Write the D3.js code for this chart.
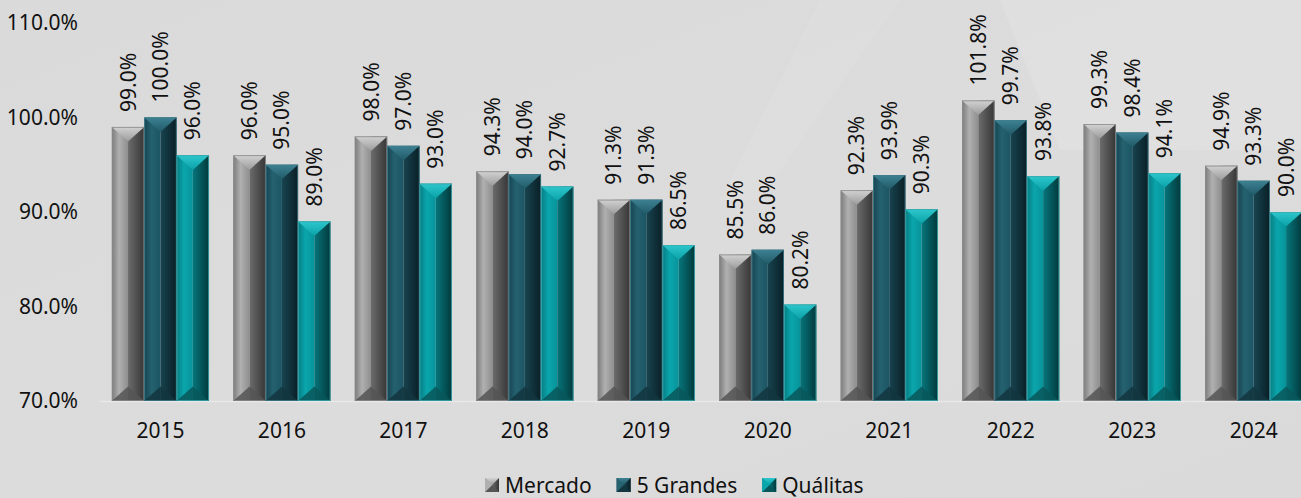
<!DOCTYPE html>
<html>
<head>
<meta charset="utf-8">
<script src="https://cdn.jsdelivr.net/npm/d3@7"></script>
<style>
  html, body { margin: 0; padding: 0; background: #dcdcdc; }
  svg { display: block; font-family: "Noto Sans", "DejaVu Sans", sans-serif; }
</style>
</head>
<body>
<div id="chart"></div>
<script>
// Chart values
const years = ['2015', '2016', '2017', '2018', '2019', '2020', '2021', '2022', '2023', '2024'];
const seriesNames = ['Mercado', '5 Grandes', 'Quálitas'];
const mercado = [99.0, 96.0, 98.0, 94.3, 91.3, 85.5, 92.3, 101.8, 99.3, 94.9];
const cincoGrandes = [100.0, 95.0, 97.0, 94.0, 91.3, 86.0, 93.9, 99.7, 98.4, 93.3];
const qualitas = [96.0, 89.0, 93.0, 92.7, 86.5, 80.2, 90.3, 93.8, 94.1, 90.0];
const yTicks = [70, 80, 90, 100, 110];

const w = 1301;
const h = 498;
const fontSize = 21;

// bevel colours per series: edge, highlight, centre, dark right, top face, bottom face, outline
const palette = [
  { id: 'mer', l0: '#7c7c7c', l1: '#b0b0b0', l2: '#8e8e8e', r0: '#6c6c6c', r1: '#363636', top0: '#d2d2d2', top1: '#9c9c9c', bot: '#555555', line: '#8a8a8a' },
  { id: 'cg', l0: '#174553', l1: '#25616f', l2: '#1c5563', r0: '#174450', r1: '#0a1f26', top0: '#3d8192', top1: '#215a68', bot: '#133640', line: '#3f7d8c' },
  { id: 'qua', l0: '#067d83', l1: '#0aa6ac', l2: '#08939a', r0: '#06767b', r1: '#02393c', top0: '#2cc7cc', top1: '#0aa2a8', bot: '#08575a', line: '#3aa8ac' }
];

const svg = d3.select('#chart')
  .append('svg')
  .attr('width', w)
  .attr('height', h);

const defs = svg.append('defs');

// soft background streaks
const bgGrad = defs.append('linearGradient')
  .attr('id', 'bg')
  .attr('x1', '0').attr('y1', '0').attr('x2', '1').attr('y2', '1');
bgGrad.append('stop').attr('offset', '0').attr('stop-color', '#dadada');
bgGrad.append('stop').attr('offset', '0.55').attr('stop-color', '#dcdcdc');
bgGrad.append('stop').attr('offset', '1').attr('stop-color', '#dadada');

svg.append('rect')
  .attr('width', w)
  .attr('height', h)
  .attr('fill', 'url(#bg)');

svg.append('path')
  .attr('d', 'M1000,0 L1301,0 L1301,150 L1060,150 Z')
  .attr('fill', '#ffffff')
  .attr('opacity', 0.12);
svg.append('path')
  .attr('d', 'M820,0 L900,0 L760,200 L720,200 Z')
  .attr('fill', '#ffffff')
  .attr('opacity', 0.06);

palette.forEach((p) => {
  const left = defs.append('linearGradient').attr('id', p.id + '-l')
    .attr('x1', '0').attr('x2', '1').attr('y1', '0').attr('y2', '0');
  left.append('stop').attr('offset', '0').attr('stop-color', p.l0);
  left.append('stop').attr('offset', '0.45').attr('stop-color', p.l1);
  left.append('stop').attr('offset', '1').attr('stop-color', p.l2);

  const right = defs.append('linearGradient').attr('id', p.id + '-r')
    .attr('x1', '0').attr('x2', '1').attr('y1', '0').attr('y2', '0');
  right.append('stop').attr('offset', '0').attr('stop-color', p.r0);
  right.append('stop').attr('offset', '1').attr('stop-color', p.r1);

  const top = defs.append('linearGradient').attr('id', p.id + '-t')
    .attr('x1', '0').attr('x2', '0').attr('y1', '0').attr('y2', '1');
  top.append('stop').attr('offset', '0').attr('stop-color', p.top0);
  top.append('stop').attr('offset', '1').attr('stop-color', p.top1);
});

// Scales
const xscale = d3.scaleBand()
  .domain(years)
  .range([99.7, 1314.4])
  .paddingInner(0.2)
  .paddingOuter(0.1);

const xsub = d3.scaleBand()
  .domain(seriesNames)
  .range([0, xscale.bandwidth()]);

const yscale = d3.scaleLinear()
  .domain([70, 110])
  .range([401, 23]);

// y axis labels
const yAxis = d3.axisLeft(yscale)
  .tickValues(yTicks)
  .tickFormat((d) => d.toFixed(1) + '%')
  .tickSize(0)
  .tickPadding(0);

const yG = svg.append('g')
  .attr('transform', 'translate(78, 0)')
  .call(yAxis);
yG.select('.domain').remove();
yG.attr('font-size', fontSize).attr('font-family', '"Noto Sans", sans-serif');
yG.selectAll('text').attr('fill', '#111');

// baseline
svg.append('line')
  .attr('x1', 100)
  .attr('x2', w)
  .attr('y1', yscale(70) + 0.5)
  .attr('y2', yscale(70) + 0.5)
  .attr('stroke', '#e8e8e8')
  .attr('stroke-width', 1.5);

// x axis labels
const xAxis = d3.axisBottom(xscale).tickSize(0).tickPadding(0);
const xG = svg.append('g')
  .attr('transform', 'translate(0, 423)')
  .call(xAxis);
xG.select('.domain').remove();
xG.attr('font-size', fontSize).attr('font-family', '"Noto Sans", sans-serif');
xG.selectAll('text').attr('fill', '#111');

// Build flat bar list
const allSeries = [mercado, cincoGrandes, qualitas];
const bars = [];
years.forEach((yr, i) => {
  seriesNames.forEach((name, s) => {
    bars.push({ year: yr, name: name, s: s, value: allSeries[s][i] });
  });
});

// Draw a bevelled bar
function drawBar(g, d) {
  const p = palette[d.s];
  const x0 = xscale(d.year) + xsub(d.name);
  const bw = xsub.bandwidth();
  const x1 = x0 + bw;
  const xc = x0 + bw / 2;
  const y0 = yscale(d.value);
  const yb = yscale(70);
  const bev = Math.min(bw * 0.45, (yb - y0) / 2);

  g.append('rect')
    .attr('x', x0).attr('y', y0)
    .attr('width', bw / 2).attr('height', yb - y0)
    .attr('fill', `url(#${p.id}-l)`);
  g.append('rect')
    .attr('x', xc).attr('y', y0)
    .attr('width', bw / 2).attr('height', yb - y0)
    .attr('fill', `url(#${p.id}-r)`);
  // top bevel
  g.append('path')
    .attr('d', `M${x0},${y0} L${x1},${y0} L${xc},${y0 + bev} Z`)
    .attr('fill', `url(#${p.id}-t)`);
  // bottom bevel
  g.append('path')
    .attr('d', `M${x0},${yb} L${x1},${yb} L${xc},${yb - bev} Z`)
    .attr('fill', p.bot)
    .attr('opacity', 0.85);
  // outline
  g.append('rect')
    .attr('x', x0 + 0.4).attr('y', y0 + 0.4)
    .attr('width', bw - 0.8).attr('height', yb - y0 - 0.8)
    .attr('fill', 'none')
    .attr('stroke', p.line)
    .attr('stroke-width', 0.8);
}

const barG = svg.append('g').attr('class', 'bars');
bars.forEach((d) => drawBar(barG.append('g'), d));

// value labels, rotated
svg.append('g')
  .selectAll('text')
  .data(bars)
  .enter()
  .append('text')
  .attr('transform', (d) => {
    const cx = xscale(d.year) + xsub(d.name) + xsub.bandwidth() / 2;
    return `translate(${cx}, ${yscale(d.value) - 15}) rotate(-90)`;
  })
  .attr('dy', '0.36em')
  .attr('font-size', fontSize)
  .attr('fill', '#111')
  .text((d) => d.value.toFixed(1) + '%');

// Legend
const legend = svg.append('g').attr('class', 'legend');
let lx = 485;
seriesNames.forEach((name, s) => {
  const p = palette[s];
  const item = legend.append('g').attr('transform', `translate(${lx}, 485)`);
  const m = 14;
  item.append('rect').attr('x', 0).attr('y', -m / 2).attr('width', m).attr('height', m).attr('fill', `url(#${p.id}-l)`);
  item.append('path').attr('d', `M${m / 2},${-m / 2} L${m},${-m / 2} L${m},${m / 2} L${m / 2},${m / 2} Z`).attr('fill', `url(#${p.id}-r)`);
  item.append('path').attr('d', `M0,${-m / 2} L${m},${-m / 2} L${m / 2},0 Z`).attr('fill', `url(#${p.id}-t)`);
  item.append('path').attr('d', `M0,${m / 2} L${m},${m / 2} L${m / 2},0 Z`).attr('fill', p.bot);
  item.append('path').attr('d', `M0,${-m / 2} L${m / 2},0 L0,${m / 2} Z`).attr('fill', p.l1);
  const t = item.append('text')
    .attr('x', m + 6)
    .attr('y', 0)
    .attr('dy', '0.36em')
    .attr('font-size', fontSize)
    .attr('fill', '#111')
    .text(name);
  lx += m + 6 + t.node().getComputedTextLength() + 25;
});
</script>
</body>
</html>
